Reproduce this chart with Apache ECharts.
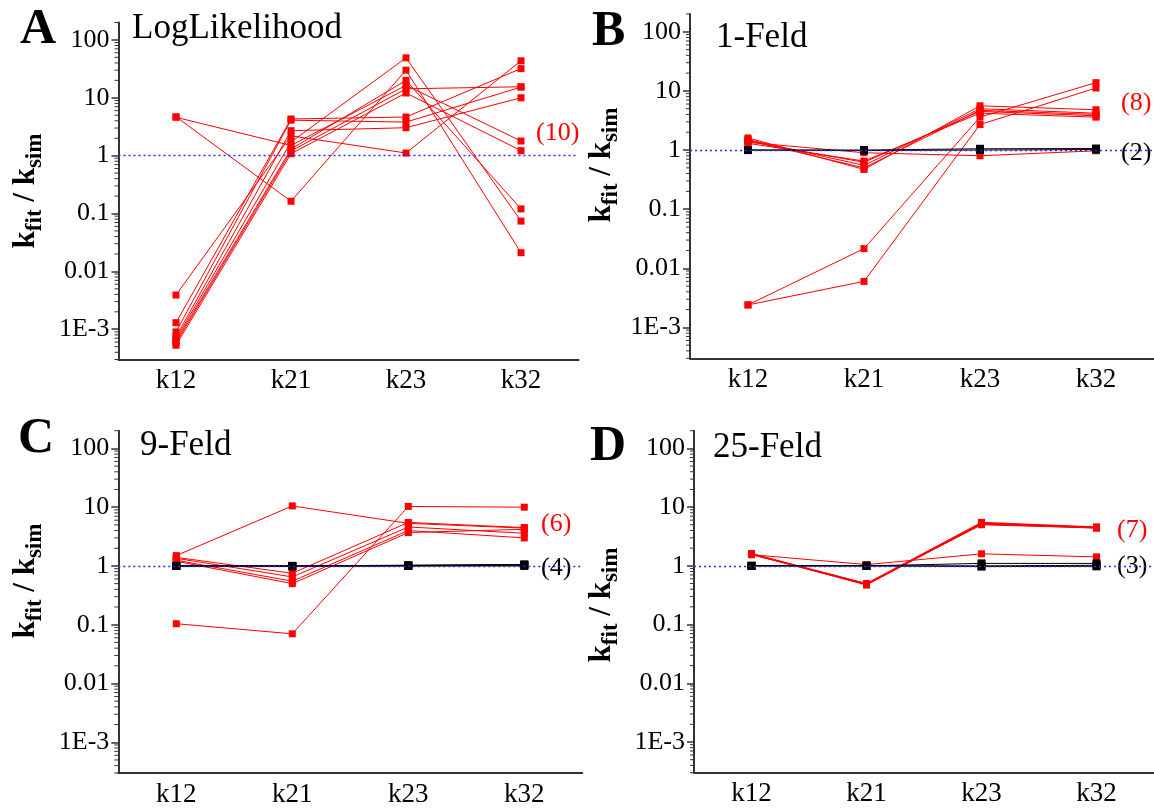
<!DOCTYPE html>
<html><head><meta charset="utf-8">
<script src="https://cdn.jsdelivr.net/npm/echarts@6/dist/echarts.min.js"></script>
<style>html,body{margin:0;padding:0;background:#fff;}#c{width:1154px;height:809px;}</style>
</head><body><div id="c"></div>
<script>
// ---------- data ----------
const categories = ['k12', 'k21', 'k23', 'k32'];
const yTickValues = [1e-3, 1e-2, 1e-1, 1, 10, 100];
const yTickLabels = ['1E-3', '0.01', '0.1', '1', '10', '100'];

// Panel A: LogLikelihood (10 red runs)
const redA = [
  [4.7, 0.163, 30, 0.021],
  [4.6, 1.5, 16.4, 1.79],
  [0.0039, 2.2, 1.11, 43.6],
  [0.0013, 4.3, 4.65, 31.9],
  [0.0009, 4.1, 3.8, 15.3],
  [0.00074, 2.7, 3.04, 10],
  [0.00068, 1.72, 49, 0.074],
  [0.00063, 1.3, 20, 0.12],
  [0.00058, 1.2, 14.3, 15.5],
  [0.00053, 1.08, 12.1, 1.22]
];
const blackA = [];

// Panel B: 1-Feld (8 red, 2 black)
const redB = [
  [1.6, 0.47, 5.6, 4.8],
  [1.5, 0.55, 5.0, 4.2],
  [1.45, 0.5, 4.7, 4.0],
  [1.4, 0.62, 4.5, 3.8],
  [1.3, 0.65, 4.2, 3.6],
  [1.35, 0.9, 0.8, 0.97],
  [0.0024, 0.0215, 3.6, 13.8],
  [0.0024, 0.006, 2.7, 11.2]
];
const blackB = [
  [1.0, 1.0, 1.05, 1.06],
  [1.0, 0.98, 1.0, 1.02]
];

// Panel C: 9-Feld (6 red, 4 black)
const redC = [
  [1.5, 10.5, 5.3, 4.4],
  [0.104, 0.07, 10.3, 10.0],
  [1.4, 0.75, 5.5, 4.5],
  [1.35, 0.65, 4.6, 3.6],
  [1.25, 0.55, 4.0, 3.0],
  [1.2, 0.5, 3.7, 4.2]
];
const blackC = [
  [1.0, 1.0, 1.02, 1.05],
  [1.0, 0.98, 1.0, 1.03],
  [1.0, 1.0, 1.03, 1.06],
  [1.0, 1.0, 1.0, 1.0]
];

// Panel D: 25-Feld (7 red, 3 black)
const redD = [
  [1.6, 0.48, 5.4, 4.5],
  [1.58, 0.49, 5.3, 4.5],
  [1.6, 0.47, 5.2, 4.4],
  [1.55, 0.48, 5.1, 4.5],
  [1.62, 0.5, 5.5, 4.6],
  [1.57, 0.49, 5.0, 4.4],
  [1.55, 1.05, 1.6, 1.42]
];
const blackD = [
  [1.0, 1.0, 1.1, 1.1],
  [1.0, 1.0, 1.0, 1.02],
  [1.0, 1.0, 0.97, 0.98]
];

const titles = ['LogLikelihood', '1-Feld', '9-Feld', '25-Feld'];
const letters = ['A', 'B', 'C', 'D'];
const redCounts = ['(10)', '(8)', '(6)', '(7)'];
const blackCounts = ['', '(2)', '(4)', '(3)'];

// ---------- layout ----------
const F = 'Liberation Serif';
const panels = [
  {grid: {left: 118.5, top: 22.5, width: 460, height: 337}, red: redA, black: blackA,
   letter: [20, 30], title: [132, 29], name: [30, 191], rc: [536, 133], bc: null},
  {grid: {left: 690, top: 14, width: 469, height: 344.3}, red: redB, black: blackB,
   letter: [592, 32], title: [716, 38], name: [606, 165], rc: [1121, 103], bc: [1121, 153]},
  {grid: {left: 118.3, top: 430.7, width: 464, height: 342.3}, red: redC, black: blackC,
   letter: [18, 439], title: [140, 446], name: [30, 581], rc: [541, 524], bc: [541, 568]},
  {grid: {left: 694, top: 430.7, width: 464, height: 342}, red: redD, black: blackD,
   letter: [590, 447], title: [713, 448], name: [606, 605], rc: [1117, 530], bc: [1117, 566]}
];

// minor tick positions (2..9 x 10^n) inside the axis range
const minorTicks = [];
for (let e = -4; e <= 2; e++) {
  for (let m = 2; m <= 9; m++) {
    const v = m * Math.pow(10, e);
    if (v >= 3e-4 && v <= 200) minorTicks.push(v);
  }
}

const axisColor = '#333';
const labelStyle = {fontFamily: F, color: '#000'};
const grids = [], xAxes = [], yAxes = [], series = [], graphics = [];

panels.forEach((p, i) => {
  grids.push(Object.assign({containLabel: false}, p.grid));
  xAxes.push({
    type: 'category', gridIndex: i, data: categories, boundaryGap: true,
    axisLine: {lineStyle: {color: axisColor, width: 2}},
    axisTick: {alignWithLabel: true, length: 6, lineStyle: {color: axisColor, width: 1.5}},
    axisLabel: Object.assign({fontSize: 27, margin: 8}, labelStyle),
    splitLine: {show: false}
  });
  yAxes.push({
    type: 'log', logBase: 10, gridIndex: i, min: 3e-4, max: 200, position: 'left',
    axisLine: {show: true, lineStyle: {color: axisColor, width: 2}},
    axisTick: {show: true, length: 7, customValues: yTickValues, lineStyle: {color: axisColor, width: 1.5}},
    axisLabel: Object.assign({fontSize: 26, margin: 9, customValues: yTickValues,
      formatter: v => { const k = yTickValues.findIndex(t => Math.abs(Math.log10(t) - Math.log10(v)) < 1e-6); return k >= 0 ? yTickLabels[k] : ''; }}, labelStyle),
    splitLine: {show: false}
  });
  // reference line at 1
  series.push({
    type: 'line', xAxisIndex: i, yAxisIndex: i, data: [], silent: true,
    markLine: {silent: true, symbol: 'none', label: {show: false}, animation: false,
      lineStyle: {color: '#2a2aff', type: [2, 3], width: 1.3}, data: [{yAxis: 1}]}
  });
  // minor ticks of the log axis, placed through the axis scale
  series.push({
    type: 'custom', xAxisIndex: i, yAxisIndex: i, silent: true, clip: false, z: 5,
    data: minorTicks.map(v => [0, v]),
    renderItem: (params, api) => {
      const pt = api.coord([0, api.value(1)]);
      const x0 = pt[0] - api.size([1, 0])[0] / 2;
      return {type: 'line', shape: {x1: x0 - 4, y1: pt[1], x2: x0, y2: pt[1]},
        style: {stroke: axisColor, lineWidth: 1}};
    }
  });
  p.black.forEach(d => series.push({
    type: 'line', xAxisIndex: i, yAxisIndex: i, data: d, symbol: 'rect', symbolSize: 8,
    lineStyle: {color: '#000', width: 1}, itemStyle: {color: '#000'}, z: 3, animation: false
  }));
  p.red.forEach(d => series.push({
    type: 'line', xAxisIndex: i, yAxisIndex: i, data: d, symbol: 'rect', symbolSize: 7,
    lineStyle: {color: '#ff0000', width: 1}, itemStyle: {color: '#ff0000'}, z: 2, animation: false
  }));

  graphics.push({type: 'text', x: p.letter[0], y: p.letter[1],
    style: {text: letters[i], fontFamily: F, fontSize: 50, fontWeight: 'bold', fill: '#000', align: 'left', verticalAlign: 'middle'}});
  graphics.push({type: 'text', x: p.title[0], y: p.title[1],
    style: {text: titles[i], fontFamily: F, fontSize: 35, fill: '#000', align: 'left', verticalAlign: 'middle'}});
  graphics.push({type: 'text', x: p.name[0], y: p.name[1], rotation: Math.PI / 2,
    style: {text: '{k|k}{s|fit}{k| / k}{s|sim}', align: 'center', verticalAlign: 'middle', fontFamily: F, fontWeight: 'bold',
      rich: {
        k: {fontFamily: F, fontSize: 31, fontWeight: 'bold', fill: '#000', lineHeight: 40, verticalAlign: 'top'},
        s: {fontFamily: F, fontSize: 23, fontWeight: 'bold', fill: '#000', lineHeight: 26, padding: [14, 0, 0, 0], verticalAlign: 'top'}
      }}});
  graphics.push({type: 'text', x: p.rc[0], y: p.rc[1],
    style: {text: redCounts[i], fontFamily: F, fontSize: 26, fill: '#ff0000', align: 'left', verticalAlign: 'middle'}});
  if (p.bc) graphics.push({type: 'text', x: p.bc[0], y: p.bc[1],
    style: {text: blackCounts[i], fontFamily: F, fontSize: 26, fill: '#000', align: 'left', verticalAlign: 'middle'}});
});

const chart = echarts.init(document.getElementById('c'), null, {renderer: 'canvas'});
chart.setOption({
  animation: false, backgroundColor: '#fff', textStyle: {fontFamily: F},
  grid: grids, xAxis: xAxes, yAxis: yAxes, series: series, graphic: graphics
});
</script></body></html>
